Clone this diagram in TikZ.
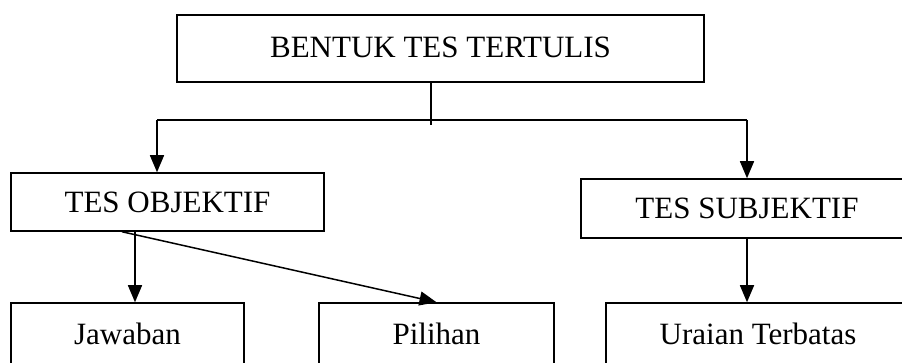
\documentclass[tikz,border=0pt]{standalone}
\usepackage{fontspec}
\setmainfont{Liberation Serif}
\usepackage{tikz}
\usetikzlibrary{arrows.meta,calc,positioning}

\begin{document}
\begin{tikzpicture}[x = 1pt, y = -1pt,
		kotak/.style = {draw, line width = 1.5pt, font = \fontsize{31}{31}\selectfont, inner sep = 0pt},
		panah/.style = {line width = 1.5pt, -{Triangle[width = 14pt, length = 17pt]}}]
		\useasboundingbox (0,0) rectangle (902,363);
		
		\node[kotak, minimum width = 527pt, minimum height = 67pt] (tertulis) at (440.5,48.5) {\raisebox{3pt}{BENTUK TES TERTULIS}};
		\node[kotak, minimum width = 313pt, minimum height = 58pt] (objektif) at (167.5,202) {TES OBJEKTIF};
		\node[kotak, minimum width = 332pt, minimum height = 59pt] (subjektif) at (747,208.5) {TES SUBJEKTIF};
		\node[kotak, minimum width = 233pt, minimum height = 62pt] (jawaban) at (127.5,334) {Jawaban};
		\node[kotak, minimum width = 235pt, minimum height = 62pt] (pilihan) at (436.5,334) {Pilihan};
		\node[kotak, minimum width = 304pt, minimum height = 62pt] (uraian) at (758,334) {Uraian Terbatas};
		
		\coordinate (cabang) at (431,125);
		\coordinate (kiri) at (157,120);
		\coordinate (kanan) at (747,120);
		
		\draw[line width = 1.5pt] (tertulis.south -| cabang) -- (cabang);
		\draw[line width = 1.5pt] (kiri) -- (kanan);
		\draw[panah] (kiri) -- (kiri |- objektif.north);
		\draw[panah] (kanan) -- (kanan |- subjektif.north);
		
		\draw[panah] ([xshift = -32.5pt]objektif.south) -- ([xshift = 7.5pt]jawaban.north);
		\draw[panah] ([xshift = -45.5pt]objektif.south) -- (pilihan.north);
		\draw[panah] (subjektif.south) -- (subjektif.south |- uraian.north);
		\end{tikzpicture}
\end{document}
